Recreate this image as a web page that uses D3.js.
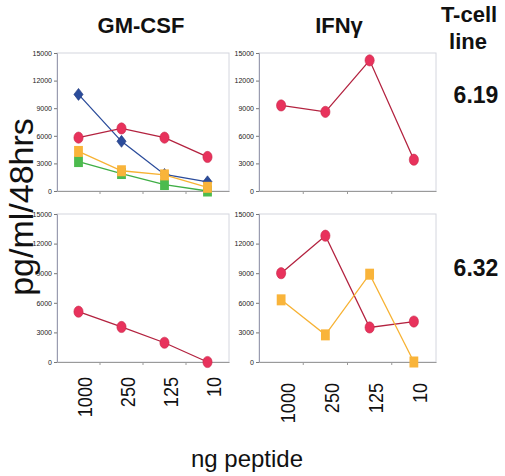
<!DOCTYPE html>
<html><head><meta charset="utf-8">
<script src="https://cdn.jsdelivr.net/npm/d3@7"></script>
<style>
html,body{margin:0;padding:0;background:#fff;}
svg{display:block;font-family:"Liberation Sans",Arial,Helvetica,sans-serif;}
</style></head>
<body>
<script>
// ---- data ----
const doses = ["1000", "250", "125", "10"];
const yTicks = [0, 3000, 6000, 9000, 12000, 15000];
const cytokines = ["GM-CSF", "IFNγ"];
const cellLines = ["6.19", "6.32"];

const gm619Blue   = [10500, 5400, 1800, 1000];
const gm619Green  = [3200, 1900, 700, 0];
const gm619Orange = [4300, 2200, 1750, 400];
const gm619Red    = [5800, 6800, 5800, 3700];
const ifn619Red   = [9300, 8600, 14200, 3400];
const gm632Red    = [5100, 3550, 1950, 0];
const ifn632Red   = [9000, 12800, 3500, 4100];
const ifn632Orange= [6300, 2750, 8900, 0];

// ---- styles ----
const styles = {
  blue:   {line:"#2b4c9b", fill:"#2b4c9b", stroke:"#1c3478", shape:"diamond"},
  green:  {line:"#3fae45", fill:"#4cbb4e", stroke:"#3a9e3c", shape:"square"},
  orange: {line:"#f7b233", fill:"#f9b43a", stroke:"#f0a52a", shape:"square"},
  red:    {line:"#b3223f", fill:"#e8325c", stroke:"#c8284a", shape:"circle"}
};

const panels = [
  {x0:57, x1:229, y0:53, y1:191, labOff:0,
   series:[["blue",gm619Blue],["green",gm619Green],["orange",gm619Orange],["red",gm619Red]]},
  {x0:259, x1:436, y0:53, y1:191, labOff:0,
   series:[["red",ifn619Red]]},
  {x0:57, x1:229, y0:214, y1:362, labOff:15, xlabels:true, labY:377,
   series:[["red",gm632Red]]},
  {x0:259, x1:436, y0:214, y1:362, labOff:21, xlabels:true, labY:383,
   series:[["red",ifn632Red],["orange",ifn632Orange]]}
];

const svg = d3.select("body").append("svg").attr("width",505).attr("height",476);

panels.forEach(p => {
  const x = d3.scaleBand().domain(doses).range([p.x0, p.x1]);
  const y = d3.scaleLinear().domain([0, 15000]).range([p.y1, p.y0]);
  const g = svg.append("g");

  // frame
  g.append("rect").attr("x",p.x0).attr("y",p.y0).attr("width",p.x1-p.x0).attr("height",p.y1-p.y0)
    .attr("fill","none").attr("stroke","#d4d6de").attr("stroke-width",1);

  // y axis
  const ya = g.append("g").attr("transform",`translate(${p.x0},0)`)
    .call(d3.axisLeft(y).tickValues(yTicks).tickSize(3).tickPadding(2).tickFormat(d3.format("d")));
  ya.select(".domain").attr("stroke","#9a9cb0");
  ya.selectAll(".tick line").attr("stroke","#777");
  ya.selectAll("text").attr("font-size","7px").attr("fill","#222").attr("font-family","Liberation Sans, Arial, sans-serif");

  // x axis
  const xa = g.append("g").attr("transform",`translate(0,${p.y1})`)
    .call(d3.axisBottom(x).tickSize(0).tickFormat(""));
  xa.select(".domain").attr("stroke","#9a9a9a");
  doses.slice(1).forEach(d => {
    g.append("line").attr("x1",x(d)).attr("x2",x(d)).attr("y1",p.y1).attr("y2",p.y1+3)
      .attr("stroke","#9a9a9a");
  });

  if (p.xlabels) {
    doses.forEach(d => {
      const cx = x(d) + x.bandwidth()/2 + 6;
      g.append("text")
        .attr("transform",`translate(${cx},${p.labY}) rotate(-90) scale(0.86,1)`)
        .attr("text-anchor","end").attr("dominant-baseline","central")
        .attr("font-size","21px").attr("fill","#111").text(d);
    });
  }

  // series
  p.series.forEach(([key, vals]) => {
    const st = styles[key];
    const pts = vals.map((v,i) => [x(doses[i]) + x.bandwidth()/2, y(v)]);
    g.append("path").attr("d", d3.line()(pts)).attr("fill","none")
      .attr("stroke", st.line).attr("stroke-width",1.3);
    pts.forEach(([px,py]) => {
      if (st.shape === "circle") {
        g.append("ellipse").attr("cx",px).attr("cy",py).attr("rx",4.6).attr("ry",5.6)
          .attr("fill",st.fill).attr("stroke",st.stroke).attr("stroke-width",0.6);
      } else if (st.shape === "square") {
        g.append("rect").attr("x",px-4.4).attr("y",py-5.5).attr("width",8.8).attr("height",11)
          .attr("fill",st.fill);
      } else {
        g.append("path").attr("d",`M${px},${py-6} L${px+4.6},${py} L${px},${py+6} L${px-4.6},${py} Z`)
          .attr("fill",st.fill).attr("stroke",st.stroke).attr("stroke-width",0.6);
      }
    });
  });
});

// titles
svg.append("text").attr("x",141).attr("y",33).attr("text-anchor","middle")
  .attr("font-size","22px").attr("font-weight","bold").attr("fill","#111").text(cytokines[0]);
svg.append("text").attr("x",339).attr("y",33).attr("text-anchor","middle")
  .attr("font-size","22px").attr("font-weight","bold").attr("fill","#111").text(cytokines[1]);
svg.append("text").attr("x",469).attr("y",22).attr("text-anchor","middle")
  .attr("font-size","22px").attr("font-weight","bold").attr("fill","#111").text("T-cell");
svg.append("text").attr("x",468).attr("y",49).attr("text-anchor","middle")
  .attr("font-size","22px").attr("font-weight","bold").attr("fill","#111").text("line");
svg.append("text").attr("x",476).attr("y",103).attr("text-anchor","middle")
  .attr("font-size","23px").attr("font-weight","bold").attr("fill","#111").text(cellLines[0]);
svg.append("text").attr("x",476).attr("y",276).attr("text-anchor","middle")
  .attr("font-size","23px").attr("font-weight","bold").attr("fill","#111").text(cellLines[1]);

// axis titles
svg.append("text").attr("transform","translate(33,207) rotate(-90)").attr("text-anchor","middle")
  .attr("font-size","34px").attr("fill","#111").text("pg/ml/48hrs");
svg.append("text").attr("x",247).attr("y",467).attr("text-anchor","middle")
  .attr("font-size","24px").attr("fill","#111").text("ng peptide");
</script>
</body></html>
